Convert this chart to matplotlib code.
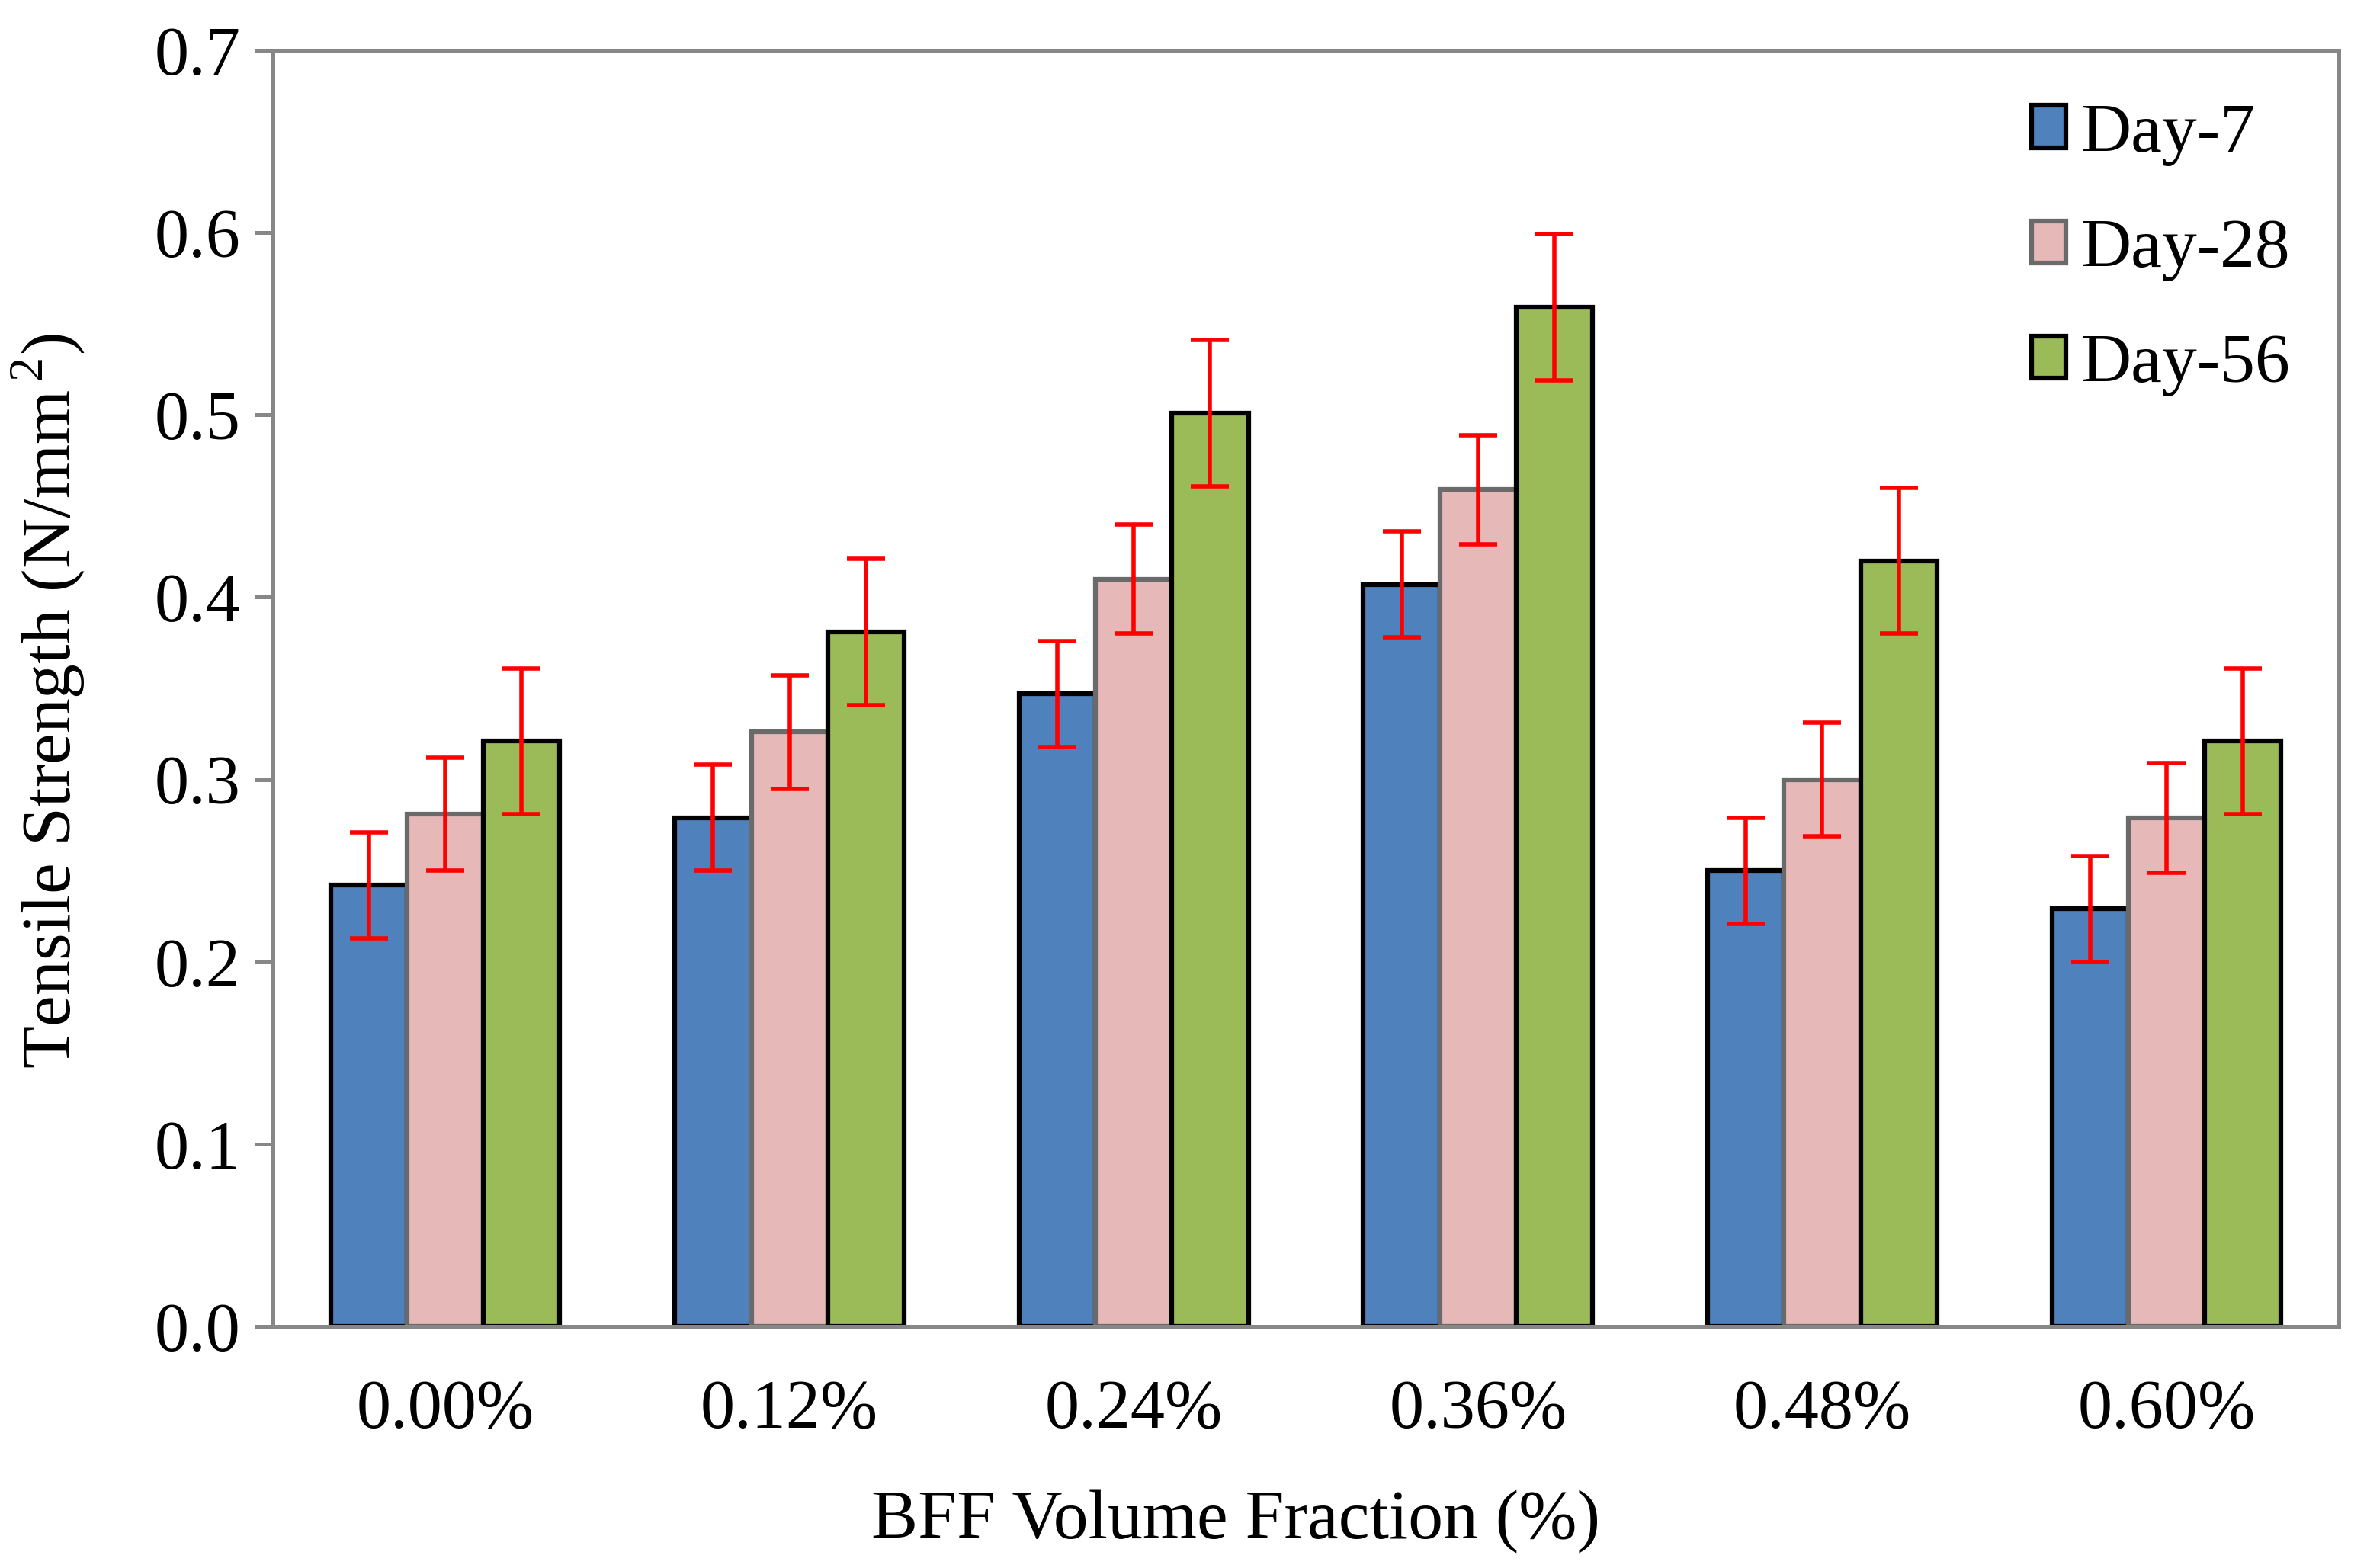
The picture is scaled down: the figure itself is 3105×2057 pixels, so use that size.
import matplotlib
matplotlib.use("Agg")
import matplotlib.pyplot as plt
import numpy as np

# data
fractions = ['0.00%', '0.12%', '0.24%', '0.36%', '0.48%', '0.60%']
series = ['Day-7', 'Day-28', 'Day-56']
day7 = [0.242, 0.279, 0.347, 0.407, 0.250, 0.229]
day28 = [0.281, 0.326, 0.410, 0.459, 0.300, 0.279]
day56 = [0.321, 0.381, 0.501, 0.559, 0.420, 0.321]
err7 = [0.029, 0.029, 0.029, 0.029, 0.029, 0.029]
err28 = [0.031, 0.031, 0.030, 0.030, 0.031, 0.030]
err56 = [0.040, 0.040, 0.040, 0.040, 0.040, 0.040]

colors = ['#4F81BD', '#E6B9B8', '#9BBB59']
edges = ['black', '#6a6a6a', 'black']

plt.rcParams['font.family'] = ['Liberation Serif', 'DejaVu Serif']
plt.rcParams['mathtext.fontset'] = 'custom'
plt.rcParams['mathtext.rm'] = 'Liberation Serif'

fig = plt.figure(figsize=(31.05, 20.57), dpi=100)
ax = fig.add_axes([0.1154, 0.154, 0.8726, 0.814])

x = np.arange(len(fractions))
w = 0.222
values = [day7, day28, day56]
errors = [err7, err28, err56]
for i, (vals, errs) in enumerate(zip(values, errors)):
    ax.bar(x + (i - 1) * w, vals, w, color=colors[i], edgecolor=edges[i],
           linewidth=4.5, label=series[i], zorder=2)
    ax.errorbar(x + (i - 1) * w, vals, yerr=errs, fmt='none', ecolor='red',
                elinewidth=4.0, capsize=18, capthick=4.0, zorder=3)

ax.set_xlim(-0.5, 5.5)
ax.set_ylim(0, 0.7)
ax.set_yticks(np.arange(0, 0.71, 0.1))
ax.set_yticklabels([f'{v:.1f}' for v in np.arange(0, 0.71, 0.1)])
ax.set_xticks(x)
ax.set_xticklabels(fractions)

for s in ax.spines.values():
    s.set_color('#878787')
    s.set_linewidth(3.6)
ax.tick_params(axis='y', length=17, width=3.6, color='#878787', pad=14,
               labelsize=65)
ax.tick_params(axis='x', length=0, pad=50, labelsize=65)

ax.set_xlabel('BFF Volume Fraction (%)', fontsize=66)
ax.xaxis.set_label_coords(0.466, -0.128)
ax.set_ylabel('Tensile Strength (N/mm$^{\\,2}$)', fontsize=66)
ax.yaxis.set_label_coords(-0.09, 0.49)

ax.legend(loc='upper right', bbox_to_anchor=(1.0, 0.997), frameon=False,
          fontsize=66, handlelength=0.5, handleheight=0.55,
          handletextpad=0.2, labelspacing=0.75, borderaxespad=0.3)

fig.savefig('out.png', dpi=100, facecolor='white')
plt.close(fig)
